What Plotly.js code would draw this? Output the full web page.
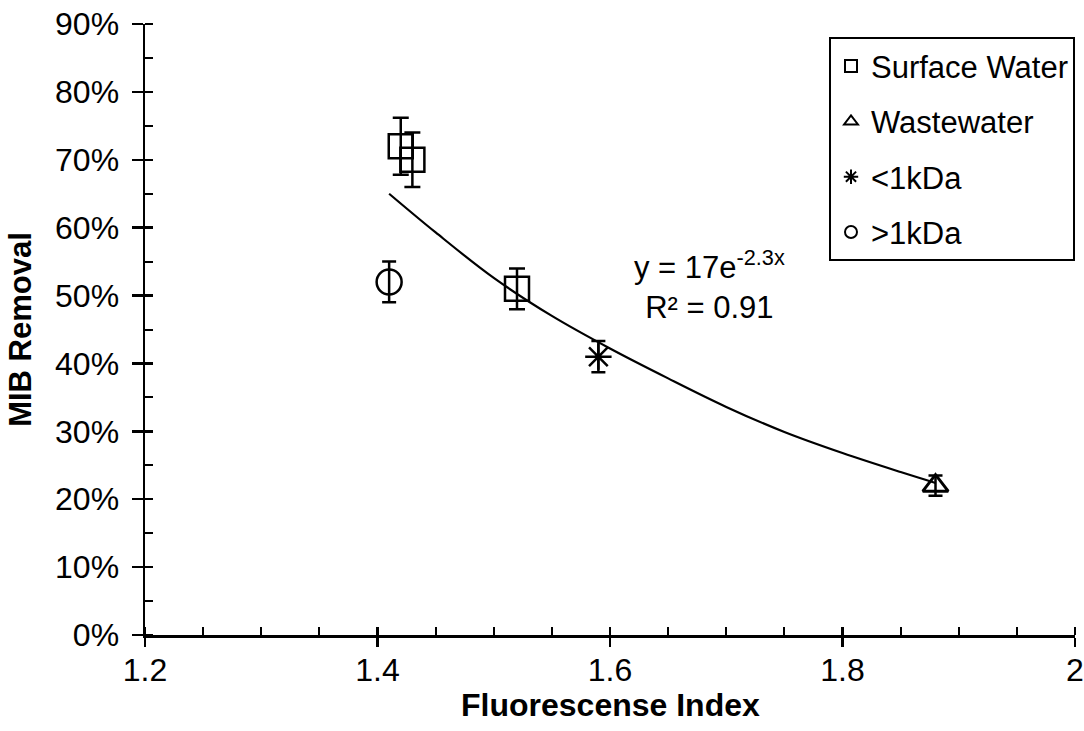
<!DOCTYPE html>
<html>
<head>
<meta charset="utf-8">
<script src="https://cdn.plot.ly/plotly-3.0.1.min.js"></script>
<style>html,body{margin:0;padding:0;background:#fff;}#chart{width:1084px;height:731px;}</style>
</head>
<body>
<div id="chart"></div>
<script>
// Data (MIB removal as fraction)
const surfaceX = [1.42, 1.43, 1.52];
const surfaceY = [0.72, 0.70, 0.51];
const surfaceErr = [0.042, 0.040, 0.030];

const wasteX = [1.88];
const wasteY = [0.22];
const wasteErr = [0.015];

const lt1kX = [1.59];
const lt1kY = [0.41];
const lt1kErr = [0.023];

const gt1kX = [1.41];
const gt1kY = [0.52];
const gt1kErr = [0.030];

// Exponential trendline, points
const trendX = [1.41, 1.45, 1.50, 1.55, 1.60, 1.65, 1.70, 1.75, 1.80, 1.85, 1.88];
const trendY = [0.650, 0.593, 0.526, 0.470, 0.422, 0.378, 0.336, 0.299, 0.268, 0.240, 0.224];

const xTicks = [1.2, 1.4, 1.6, 1.8, 2.0];
const yTicks = [0, 0.1, 0.2, 0.3, 0.4, 0.5, 0.6, 0.7, 0.8, 0.9];

const xTitle = 'Fluorescense Index';
const yTitle = 'MIB Removal';

const FONT = 'Liberation Sans, Arial, sans-serif';
const BLACK = '#000000';

function errBar(arr, w) {
  return {type: 'data', array: arr, visible: true, color: BLACK, thickness: 2.5, width: w};
}

const traces = [
  {
    x: trendX, y: trendY, mode: 'lines', type: 'scatter',
    line: {color: BLACK, width: 2.2, shape: 'spline'},
    showlegend: false, hoverinfo: 'skip'
  },
  {
    name: 'Surface Water', legendgroup: 'a',
    x: surfaceX, y: surfaceY, mode: 'markers', type: 'scatter',
    marker: {symbol: 'square-open', size: 24, color: BLACK, line: {width: 2.5, color: BLACK}},
    error_y: errBar(surfaceErr, 8)
  },
  {
    name: 'Wastewater', legendgroup: 'b',
    x: wasteX, y: wasteY, mode: 'markers', type: 'scatter',
    marker: {symbol: 'triangle-up-open', size: 22, color: BLACK, line: {width: 3, color: BLACK}},
    error_y: errBar(wasteErr, 7)
  },
  {
    name: '<1kDa', legendgroup: 'c',
    x: lt1kX, y: lt1kY, mode: 'markers', type: 'scatter',
    marker: {symbol: 'asterisk-open', size: 22, color: BLACK, line: {width: 2.5, color: BLACK}},
    error_y: errBar(lt1kErr, 7)
  },
  {
    name: '>1kDa', legendgroup: 'd',
    x: gt1kX, y: gt1kY, mode: 'markers', type: 'scatter',
    marker: {symbol: 'circle-open', size: 25, color: BLACK, line: {width: 2.5, color: BLACK}},
    error_y: errBar(gt1kErr, 7)
  },
  {
    x: [], y: [], xaxis: 'x2', yaxis: 'y2', mode: 'markers', type: 'scatter',
    showlegend: false, hoverinfo: 'skip'
  }
];

const layout = {
  width: 1084, height: 731,
  margin: {l: 145, r: 9, t: 24, b: 96, pad: 0},
  paper_bgcolor: '#fff', plot_bgcolor: '#fff',
  font: {family: FONT, color: BLACK, size: 32},
  showlegend: true,
  xaxis: {
    range: [1.2, 2.0], tickvals: xTicks, ticktext: xTicks.map(v => String(v)),
    showgrid: false, zeroline: false,
    showline: true, linecolor: BLACK, linewidth: 2.5,
    ticks: 'outside', ticklen: 9, tickwidth: 2.5, tickcolor: BLACK,
    ticklabelstandoff: -4,
    minor: {dtick: 0.05, ticks: 'inside', ticklen: 8, tickwidth: 2, tickcolor: BLACK, showgrid: false},
    tickfont: {size: 32, family: FONT}
  },
  yaxis: {
    range: [0, 0.9], tickvals: yTicks, tickformat: '.0%',
    showgrid: false, zeroline: false,
    showline: true, linecolor: BLACK, linewidth: 2.5,
    ticks: 'outside', ticklen: 11, tickwidth: 2.5, tickcolor: BLACK,
    ticklabelstandoff: 6,
    minor: {dtick: 0.05, ticks: 'inside', ticklen: 8, tickwidth: 2, tickcolor: BLACK, showgrid: false},
    tickfont: {size: 32, family: FONT},
    title: {text: '<b>' + yTitle + '</b>', font: {size: 31, family: FONT}, standoff: 14}
  },
  xaxis2: {
    overlaying: 'x', anchor: 'y2', side: 'bottom', range: [1.2, 2.0], tickvals: xTicks,
    showticklabels: false, showgrid: false, zeroline: false, showline: false,
    ticks: 'inside', ticklen: 8, tickwidth: 2.5, tickcolor: BLACK
  },
  yaxis2: {
    overlaying: 'y', anchor: 'x2', side: 'left', range: [0, 0.9], tickvals: yTicks,
    showticklabels: false, showgrid: false, zeroline: false, showline: false,
    ticks: 'inside', ticklen: 8, tickwidth: 2.5, tickcolor: BLACK
  },
  legend: {
    x: 1, xanchor: 'right', y: 0.978, yanchor: 'top',
    bgcolor: '#fff', bordercolor: BLACK, borderwidth: 2,
    font: {size: 31, family: FONT, color: BLACK},
    itemsizing: 'constant', tracegroupgap: 12, itemwidth: 30,
    traceorder: 'grouped'
  },
  annotations: [
    {
      x: 1.686, y: 0.515, xref: 'x', yref: 'y',
      text: 'y = 17e<sup>-2.3x</sup><br>R² = 0.91',
      showarrow: false, align: 'center', xanchor: 'center', yanchor: 'middle',
      font: {size: 31, family: FONT, color: BLACK}
    },
    {
      x: 0.5, y: -0.114, xref: 'paper', yref: 'paper',
      text: '<b>' + xTitle + '</b>',
      showarrow: false, xanchor: 'center', yanchor: 'middle',
      font: {size: 32, family: FONT, color: BLACK}
    }
  ]
};

Plotly.newPlot('chart', traces, layout, {displayModeBar: false, staticPlot: true});
</script>
</body>
</html>
